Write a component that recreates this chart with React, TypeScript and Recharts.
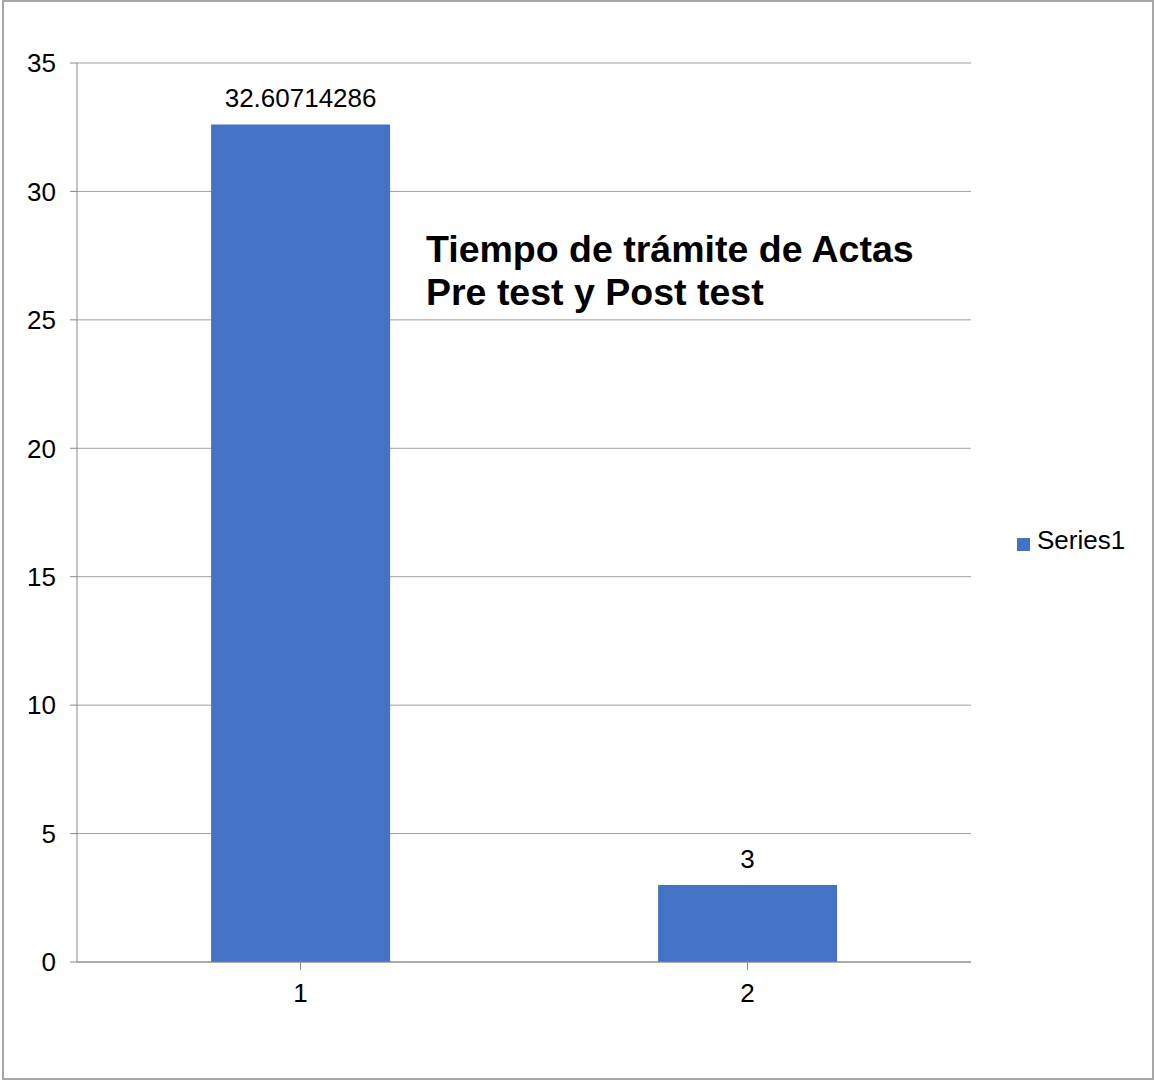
import React from 'react';
import {
  BarChart,
  Bar,
  XAxis,
  YAxis,
  CartesianGrid,
  Legend,
  LabelList,
} from 'recharts';

const categories = ['1', '2'];
const series1 = [32.60714286, 3];
const yTicks = [0, 5, 10, 15, 20, 25, 30, 35];

const data = categories.map((name, i) => ({ name, Series1: series1[i] }));

const font = '"Liberation Sans", Arial, sans-serif';
const axisColor = '#898989';
const textSize = 26;

export default function App() {
  return (
    <div
      style={{
        position: 'fixed',
        left: 0,
        top: 0,
        width: 1154,
        height: 1080,
        background: '#fff',
        fontFamily: font,
      }}
    >
      <div
        style={{
          position: 'absolute',
          left: 2,
          top: 0,
          width: 1148,
          height: 1076,
          border: '2px solid #a6a6a6',
          pointerEvents: 'none',
        }}
      />
      <BarChart
        width={1154}
        height={1080}
        data={data}
        margin={{ top: 63, right: 53, bottom: 58, left: 8 }}
        barCategoryGap="30%"
      >
        <CartesianGrid vertical={false} stroke="#a0a0a0" strokeWidth={1} />
        <XAxis
          dataKey="name"
          height={60}
          stroke={axisColor}
          tickSize={8}
          tickMargin={14}
          tick={{ fill: '#000', fontSize: textSize, fontFamily: font }}
        />
        <YAxis
          width={69}
          domain={[0, 35]}
          ticks={yTicks}
          interval={0}
          stroke={axisColor}
          tickSize={7}
          tickMargin={14}
          tick={{ fill: '#000', fontSize: textSize, fontFamily: font }}
        />
        <Legend
          layout="vertical"
          align="right"
          verticalAlign="middle"
          iconType="square"
          iconSize={13}
          formatter={(v) => (
            <span style={{ color: '#000', fontSize: textSize, marginLeft: 3 }}>{v}</span>
          )}
          wrapperStyle={{ left: 1017, top: 525, width: 130, fontFamily: font }}
        />
        <Bar dataKey="Series1" fill="#4472C4" isAnimationActive={false}>
          <LabelList
            dataKey="Series1"
            position="top"
            offset={17}
            fill="#000"
            fontSize={textSize}
            fontFamily={font}
          />
        </Bar>
      </BarChart>
      <div
        style={{
          position: 'absolute',
          left: 426,
          top: 228,
          fontSize: 37.5,
          fontWeight: 'bold',
          lineHeight: '43px',
          color: '#000',
          fontFamily: font,
        }}
      >
        Tiempo de trámite de Actas
        <br />
        Pre test y Post test
      </div>
    </div>
  );
}
